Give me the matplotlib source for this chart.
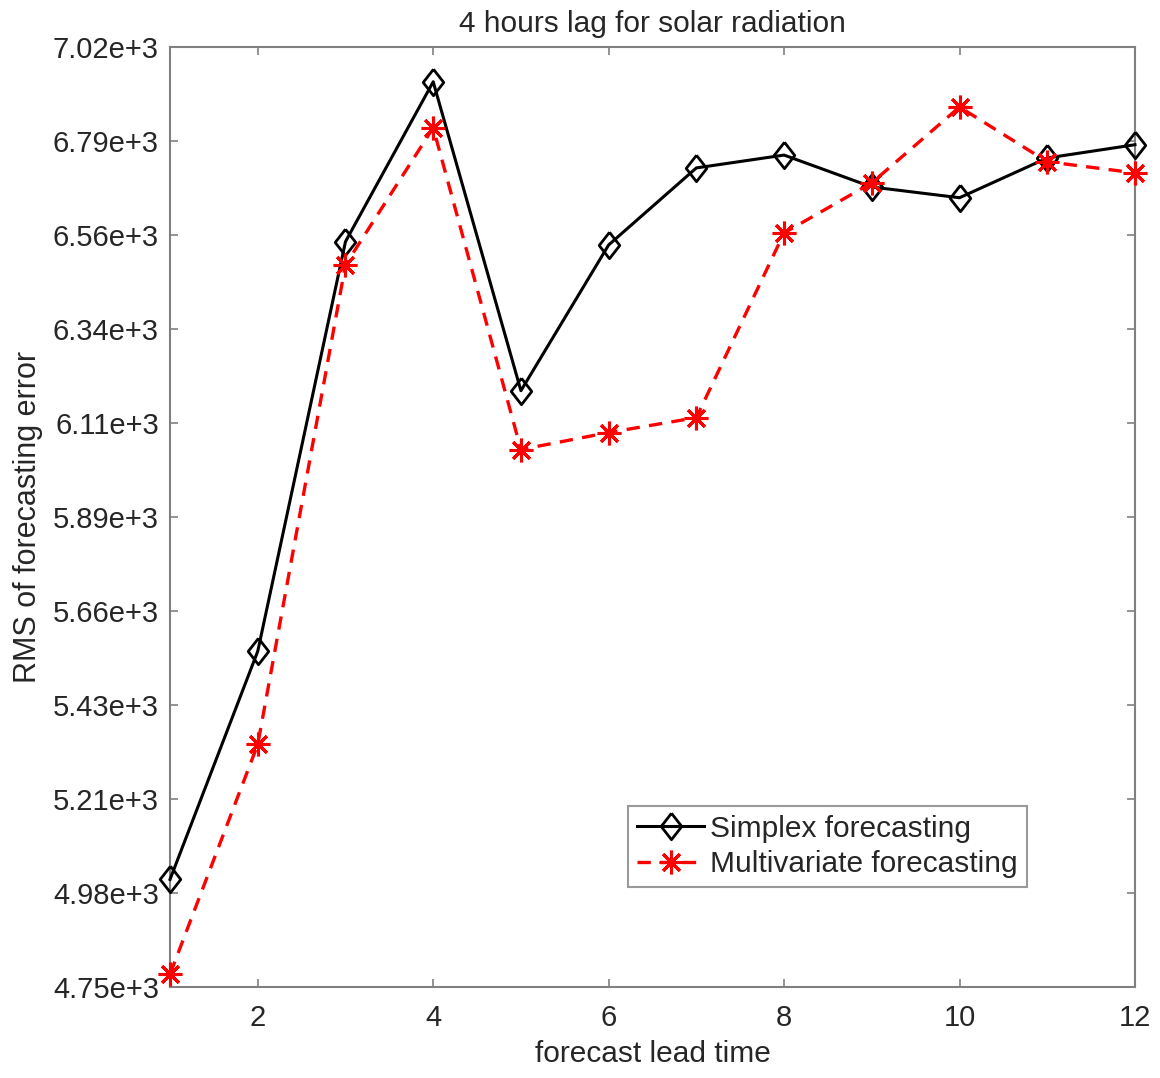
import matplotlib
matplotlib.use("Agg")
import matplotlib.pyplot as plt
import numpy as np

plt.rcParams['font.family'] = ['Liberation Sans', 'DejaVu Sans']

lead_time = [1, 2, 3, 4, 5, 6, 7, 8, 9, 10, 11, 12]
simplex = [5010, 5561, 6550, 6936, 6190, 6542, 6728, 6759, 6682, 6656, 6752, 6784]
multivariate = [4781, 5336, 6494, 6825, 6048, 6089, 6125, 6571, 6692, 6875, 6743, 6716]
ytick_labels = ['4.75e+3', '4.98e+3', '5.21e+3', '5.43e+3', '5.66e+3', '5.89e+3',
                '6.11e+3', '6.34e+3', '6.56e+3', '6.79e+3', '7.02e+3']
xticks = [2, 4, 6, 8, 10, 12]

fig = plt.figure(figsize=(11.6, 10.78), dpi=100)
ax = fig.add_axes([0.1466, 0.0844, 0.8318, 0.872])

diamond = [(0, 1), (0.78, 0), (0, -1), (-0.78, 0), (0, 1)]
ax.plot(lead_time, simplex, color='black', lw=2.2, marker=diamond, markersize=19,
        markerfacecolor='none', markeredgecolor='black', markeredgewidth=2,
        label='Simplex forecasting', clip_on=False, zorder=3)
ax.plot(lead_time, multivariate, color='red', lw=2.4, ls=(0, (4, 2.8)),
        marker=(8, 2, 0), markersize=17, markeredgecolor='red', markeredgewidth=2.2,
        label='Multivariate forecasting', clip_on=False, zorder=3)

ax.set_xlim(1, 12)
ax.set_ylim(4750, 7020)
ax.set_xticks(xticks)
ax.set_yticks(np.linspace(4750, 7020, len(ytick_labels)))
ax.set_yticklabels(ytick_labels)

gray = '#808080'
txt = '#262626'
fs = 21.5
for s in ax.spines.values():
    s.set_color(gray)
    s.set_linewidth(1.5)
ax.tick_params(direction='in', length=6, width=1.2, color=gray, labelcolor=txt,
               labelsize=21, top=True, right=True)
ax.tick_params(axis='x', pad=12)
ax.tick_params(axis='y', pad=8)

ax.set_title('4 hours lag for solar radiation', fontsize=fs, color=txt, pad=11)
ax.set_xlabel('forecast lead time', fontsize=fs, color=txt, labelpad=6)
ax.set_ylabel('RMS of forecasting error', fontsize=22, color=txt, labelpad=7)

leg = ax.legend(loc='lower left', bbox_to_anchor=(0.4746, 0.1064), borderaxespad=0,
                fontsize=fs, handlelength=2.25, handletextpad=0.2, labelspacing=0.25,
                borderpad=0.3, fancybox=False, frameon=True)
leg.get_frame().set_edgecolor(gray)
leg.get_frame().set_linewidth(1.5)
for t in leg.get_texts():
    t.set_color(txt)

fig.savefig('out.png', dpi=100)
